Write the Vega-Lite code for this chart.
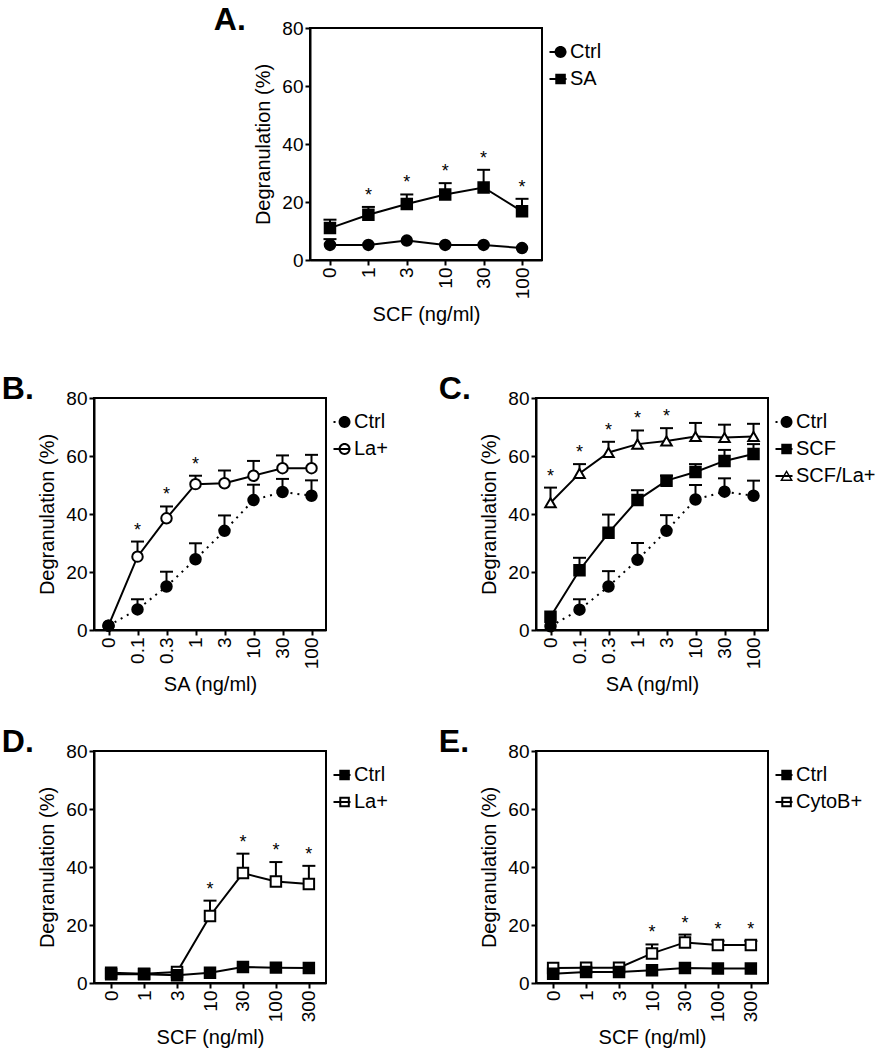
{
  "$schema": "https://vega.github.io/schema/vega-lite/v6.json",
  "autosize": {"type": "pad"},
  "padding": {"left": 0, "top": 3, "right": 0, "bottom": 0},
  "background": "white",
  "datasets": {
    "A": [
      {"conc": 0, "series": "SA", "mean": 11.0, "err": 13.9, "sig": false},
      {"conc": 1, "series": "SA", "mean": 15.6, "err": 18.3, "sig": true},
      {"conc": 3, "series": "SA", "mean": 19.3, "err": 22.6, "sig": true},
      {"conc": 10, "series": "SA", "mean": 22.6, "err": 26.5, "sig": true},
      {"conc": 30, "series": "SA", "mean": 25.0, "err": 31.1, "sig": true},
      {"conc": 100, "series": "SA", "mean": 16.8, "err": 21.1, "sig": true},
      {"conc": 0, "series": "Ctrl", "mean": 5.2, "err": 7.2, "sig": false},
      {"conc": 1, "series": "Ctrl", "mean": 5.2, "err": null, "sig": false},
      {"conc": 3, "series": "Ctrl", "mean": 6.7, "err": null, "sig": false},
      {"conc": 10, "series": "Ctrl", "mean": 5.2, "err": null, "sig": false},
      {"conc": 30, "series": "Ctrl", "mean": 5.2, "err": null, "sig": false},
      {"conc": 100, "series": "Ctrl", "mean": 4.1, "err": null, "sig": false}
    ],
    "B": [
      {"conc": 0, "series": "La+", "mean": 1.5, "err": null, "sig": false},
      {"conc": 0.1, "series": "La+", "mean": 25.3, "err": 30.5, "sig": true},
      {"conc": 0.3, "series": "La+", "mean": 38.5, "err": 42.6, "sig": true},
      {"conc": 1, "series": "La+", "mean": 50.3, "err": 53.2, "sig": true},
      {"conc": 3, "series": "La+", "mean": 50.6, "err": 55.0, "sig": false},
      {"conc": 10, "series": "La+", "mean": 53.2, "err": 58.3, "sig": false},
      {"conc": 30, "series": "La+", "mean": 55.8, "err": 60.2, "sig": false},
      {"conc": 100, "series": "La+", "mean": 55.8, "err": 60.4, "sig": false},
      {"conc": 0, "series": "Ctrl", "mean": 1.5, "err": null, "sig": false},
      {"conc": 0.1, "series": "Ctrl", "mean": 7.1, "err": 10.6, "sig": false},
      {"conc": 0.3, "series": "Ctrl", "mean": 15.0, "err": 20.1, "sig": false},
      {"conc": 1, "series": "Ctrl", "mean": 24.4, "err": 29.9, "sig": false},
      {"conc": 3, "series": "Ctrl", "mean": 34.2, "err": 39.5, "sig": false},
      {"conc": 10, "series": "Ctrl", "mean": 44.8, "err": 50.1, "sig": false},
      {"conc": 30, "series": "Ctrl", "mean": 47.6, "err": 52.1, "sig": false},
      {"conc": 100, "series": "Ctrl", "mean": 46.3, "err": 51.6, "sig": false}
    ],
    "C": [
      {"conc": 0, "series": "SCF/La+", "mean": 43.9, "err": 49.1, "sig": true},
      {"conc": 0.1, "series": "SCF/La+", "mean": 54.0, "err": 57.2, "sig": true},
      {"conc": 0.3, "series": "SCF/La+", "mean": 61.2, "err": 64.9, "sig": true},
      {"conc": 1, "series": "SCF/La+", "mean": 64.1, "err": 68.8, "sig": true},
      {"conc": 3, "series": "SCF/La+", "mean": 65.2, "err": 69.6, "sig": true},
      {"conc": 10, "series": "SCF/La+", "mean": 66.7, "err": 71.4, "sig": false},
      {"conc": 30, "series": "SCF/La+", "mean": 66.4, "err": 70.8, "sig": false},
      {"conc": 100, "series": "SCF/La+", "mean": 66.7, "err": 71.1, "sig": false},
      {"conc": 0, "series": "SCF", "mean": 4.6, "err": null, "sig": false},
      {"conc": 0.1, "series": "SCF", "mean": 20.6, "err": 24.9, "sig": false},
      {"conc": 0.3, "series": "SCF", "mean": 33.5, "err": 39.8, "sig": false},
      {"conc": 1, "series": "SCF", "mean": 44.8, "err": 48.2, "sig": false},
      {"conc": 3, "series": "SCF", "mean": 51.5, "err": 53.2, "sig": false},
      {"conc": 10, "series": "SCF", "mean": 54.5, "err": 57.2, "sig": false},
      {"conc": 30, "series": "SCF", "mean": 58.3, "err": 62.1, "sig": false},
      {"conc": 100, "series": "SCF", "mean": 60.7, "err": 64.1, "sig": false},
      {"conc": 0, "series": "Ctrl", "mean": 1.3, "err": null, "sig": false},
      {"conc": 0.1, "series": "Ctrl", "mean": 7.0, "err": 10.6, "sig": false},
      {"conc": 0.3, "series": "Ctrl", "mean": 15.0, "err": 20.3, "sig": false},
      {"conc": 1, "series": "Ctrl", "mean": 24.2, "err": 30.0, "sig": false},
      {"conc": 3, "series": "Ctrl", "mean": 34.2, "err": 39.6, "sig": false},
      {"conc": 10, "series": "Ctrl", "mean": 45.0, "err": 50.0, "sig": false},
      {"conc": 30, "series": "Ctrl", "mean": 47.7, "err": 52.3, "sig": false},
      {"conc": 100, "series": "Ctrl", "mean": 46.3, "err": 51.5, "sig": false}
    ],
    "D": [
      {"conc": 0, "series": "La+", "mean": 3.5, "err": null, "sig": false},
      {"conc": 1, "series": "La+", "mean": 3.2, "err": null, "sig": false},
      {"conc": 3, "series": "La+", "mean": 3.8, "err": null, "sig": false},
      {"conc": 10, "series": "La+", "mean": 23.1, "err": 28.4, "sig": true},
      {"conc": 30, "series": "La+", "mean": 37.9, "err": 44.6, "sig": true},
      {"conc": 100, "series": "La+", "mean": 35.0, "err": 41.7, "sig": true},
      {"conc": 300, "series": "La+", "mean": 34.1, "err": 40.4, "sig": true},
      {"conc": 0, "series": "Ctrl", "mean": 3.0, "err": null, "sig": false},
      {"conc": 1, "series": "Ctrl", "mean": 3.0, "err": null, "sig": false},
      {"conc": 3, "series": "Ctrl", "mean": 2.7, "err": null, "sig": false},
      {"conc": 10, "series": "Ctrl", "mean": 3.5, "err": null, "sig": false},
      {"conc": 30, "series": "Ctrl", "mean": 5.5, "err": null, "sig": false},
      {"conc": 100, "series": "Ctrl", "mean": 5.3, "err": null, "sig": false},
      {"conc": 300, "series": "Ctrl", "mean": 5.2, "err": null, "sig": false}
    ],
    "E": [
      {"conc": 0, "series": "CytoB+", "mean": 5.2, "err": null, "sig": false},
      {"conc": 1, "series": "CytoB+", "mean": 5.3, "err": null, "sig": false},
      {"conc": 3, "series": "CytoB+", "mean": 5.3, "err": null, "sig": false},
      {"conc": 10, "series": "CytoB+", "mean": 10.2, "err": 13.3, "sig": true},
      {"conc": 30, "series": "CytoB+", "mean": 14.0, "err": 16.7, "sig": true},
      {"conc": 100, "series": "CytoB+", "mean": 13.1, "err": 14.5, "sig": true},
      {"conc": 300, "series": "CytoB+", "mean": 13.1, "err": 14.5, "sig": true},
      {"conc": 0, "series": "Ctrl", "mean": 3.2, "err": null, "sig": false},
      {"conc": 1, "series": "Ctrl", "mean": 3.8, "err": null, "sig": false},
      {"conc": 3, "series": "Ctrl", "mean": 3.8, "err": null, "sig": false},
      {"conc": 10, "series": "Ctrl", "mean": 4.4, "err": null, "sig": false},
      {"conc": 30, "series": "Ctrl", "mean": 5.2, "err": null, "sig": false},
      {"conc": 100, "series": "Ctrl", "mean": 5.0, "err": null, "sig": false},
      {"conc": 300, "series": "Ctrl", "mean": 5.0, "err": null, "sig": false}
    ]
  },
  "columns": 3,
  "align": "none",
  "bounds": "flush",
  "spacing": {"row": 121, "column": -16},
  "concat": [
    {"width": 10, "height": 249, "view": {"stroke": null}, "data": {"values": []}, "mark": "point", "encoding": {}},
    {
      "width": 232, "height": 232,
      "title": {"text": "A.", "anchor": "start", "frame": "bounds", "baseline": "alphabetic", "offset": 0, "dx": -40, "dy": 43},
      "data": {"name": "A"},
      "encoding": {
        "x": {"field": "conc", "type": "ordinal", "scale": {"type": "point", "padding": 0.52}, "axis": {"title": "SCF (ng/ml)"}},
        "y": {"field": "mean", "type": "quantitative", "scale": {"domain": [0, 80]}, "axis": {"title": "Degranulation (%)", "values": [0, 20, 40, 60, 80]}}
      },
      "resolve": {"scale": {"shape": "independent", "fill": "independent"}},
      "layer": [
        {"mark": {"type": "line", "strokeWidth": 2, "color": "black"}, "encoding": {"detail": {"field": "series"}, "order": {"field": "conc", "type": "quantitative"}}},
        {"transform": [{"filter": "datum.err != null"}], "mark": {"type": "rule", "strokeWidth": 2, "color": "black", "opacity": 1}, "encoding": {"y2": {"field": "err"}}},
        {"transform": [{"filter": "datum.err != null"}], "mark": {"type": "tick", "orient": "horizontal", "size": 13, "thickness": 2, "color": "black", "opacity": 1}, "encoding": {"y": {"field": "err", "type": "quantitative"}}},
        {"mark": {"type": "point", "size": 110, "strokeWidth": 2, "stroke": "black", "opacity": 1}, "encoding": {"shape": {"field": "series", "type": "nominal", "scale": {"domain": ["Ctrl", "SA"], "range": ["circle", "square"]}, "legend": null}, "fill": {"field": "series", "type": "nominal", "scale": {"domain": ["Ctrl", "SA"], "range": ["black", "black"]}, "legend": null}}},
        {"transform": [{"filter": "datum.sig"}], "mark": {"type": "text", "text": "*", "fontSize": 18, "dy": -6, "baseline": "alphabetic", "color": "black"}, "encoding": {"y": {"field": "err", "type": "quantitative"}}},
        {"data": {"values": []}, "mark": {"type": "point", "size": 289, "filled": true, "color": "black", "strokeWidth": 0, "opacity": 1}, "encoding": {
          "shape": {"field": "series", "type": "nominal", "scale": {"domain": ["Ctrl", "SA"], "range": [
            "M-1,-0.12H1V0.12H-1ZM-0.4,0A0.7,0.7,0,1,1,1,0A0.7,0.7,0,1,1,-0.4,0Z",
            "M-1,-0.12H1V0.12H-1ZM-0.32,-0.62H0.92V0.62H-0.32Z"]}}}}
      ]
    },
    {"width": 10, "height": 10, "view": {"stroke": null}, "data": {"values": []}, "mark": "point", "encoding": {}},
    {
      "width": 232, "height": 232,
      "title": {"text": "B.", "anchor": "start", "frame": "bounds", "baseline": "alphabetic", "offset": 0, "dx": -36, "dy": 42},
      "data": {"name": "B"},
      "encoding": {
        "x": {"field": "conc", "type": "ordinal", "scale": {"type": "point", "padding": 0.5}, "axis": {"title": "SA (ng/ml)"}},
        "y": {"field": "mean", "type": "quantitative", "scale": {"domain": [0, 80]}, "axis": {"title": "Degranulation (%)", "values": [0, 20, 40, 60, 80]}}
      },
      "resolve": {"scale": {"shape": "independent", "fill": "independent"}},
      "layer": [
        {"transform": [{"filter": "datum.series != 'Ctrl'"}], "mark": {"type": "line", "strokeWidth": 2, "color": "black"}, "encoding": {"detail": {"field": "series"}, "order": {"field": "conc", "type": "quantitative"}}},
        {"transform": [{"filter": "datum.series == 'Ctrl'"}], "mark": {"type": "line", "strokeWidth": 2, "color": "black", "strokeDash": [2, 5]}, "encoding": {"order": {"field": "conc", "type": "quantitative"}}},
        {"transform": [{"filter": "datum.err != null"}], "mark": {"type": "rule", "strokeWidth": 2, "color": "black", "opacity": 1}, "encoding": {"y2": {"field": "err"}}},
        {"transform": [{"filter": "datum.err != null"}], "mark": {"type": "tick", "orient": "horizontal", "size": 13, "thickness": 2, "color": "black", "opacity": 1}, "encoding": {"y": {"field": "err", "type": "quantitative"}}},
        {"mark": {"type": "point", "size": 110, "strokeWidth": 2, "stroke": "black", "opacity": 1}, "encoding": {"shape": {"field": "series", "type": "nominal", "scale": {"domain": ["Ctrl", "La+"], "range": ["circle", "circle"]}, "legend": null}, "fill": {"field": "series", "type": "nominal", "scale": {"domain": ["Ctrl", "La+"], "range": ["black", "white"]}, "legend": null}}},
        {"transform": [{"filter": "datum.sig"}], "mark": {"type": "text", "text": "*", "fontSize": 18, "dy": -6, "baseline": "alphabetic", "color": "black"}, "encoding": {"y": {"field": "err", "type": "quantitative"}}},
        {"data": {"values": []}, "mark": {"type": "point", "size": 289, "filled": true, "color": "black", "strokeWidth": 0, "opacity": 1}, "encoding": {
          "shape": {"field": "series", "type": "nominal", "scale": {"domain": ["Ctrl", "La+"], "range": [
            "M-1,-0.12H-0.76V0.12H-1ZM-0.4,0A0.7,0.7,0,1,1,1,0A0.7,0.7,0,1,1,-0.4,0Z",
            "M-1,-0.12H1V0.12H-1ZM-0.4,0A0.7,0.7,0,1,1,1,0A0.7,0.7,0,1,1,-0.4,0ZM-0.17,0A0.47,0.47,0,1,0,0.77,0A0.47,0.47,0,1,0,-0.17,0Z"]}}}}
      ]
    },
    {"width": 242, "height": 10, "view": {"stroke": null}, "data": {"values": []}, "mark": "point", "encoding": {}},
    {
      "width": 232, "height": 232,
      "title": {"text": "C.", "anchor": "start", "frame": "bounds", "baseline": "alphabetic", "offset": 0, "dx": -41, "dy": 42},
      "data": {"name": "C"},
      "encoding": {
        "x": {"field": "conc", "type": "ordinal", "scale": {"type": "point", "padding": 0.5}, "axis": {"title": "SA (ng/ml)"}},
        "y": {"field": "mean", "type": "quantitative", "scale": {"domain": [0, 80]}, "axis": {"title": "Degranulation (%)", "values": [0, 20, 40, 60, 80]}}
      },
      "resolve": {"scale": {"shape": "independent", "fill": "independent"}},
      "layer": [
        {"transform": [{"filter": "datum.series != 'Ctrl'"}], "mark": {"type": "line", "strokeWidth": 2, "color": "black"}, "encoding": {"detail": {"field": "series"}, "order": {"field": "conc", "type": "quantitative"}}},
        {"transform": [{"filter": "datum.series == 'Ctrl'"}], "mark": {"type": "line", "strokeWidth": 2, "color": "black", "strokeDash": [2, 5]}, "encoding": {"order": {"field": "conc", "type": "quantitative"}}},
        {"transform": [{"filter": "datum.err != null"}], "mark": {"type": "rule", "strokeWidth": 2, "color": "black", "opacity": 1}, "encoding": {"y2": {"field": "err"}}},
        {"transform": [{"filter": "datum.err != null"}], "mark": {"type": "tick", "orient": "horizontal", "size": 13, "thickness": 2, "color": "black", "opacity": 1}, "encoding": {"y": {"field": "err", "type": "quantitative"}}},
        {"mark": {"type": "point", "size": 110, "strokeWidth": 2, "stroke": "black", "opacity": 1}, "encoding": {"shape": {"field": "series", "type": "nominal", "scale": {"domain": ["Ctrl", "SCF", "SCF/La+"], "range": ["circle", "square", "triangle-up"]}, "legend": null}, "fill": {"field": "series", "type": "nominal", "scale": {"domain": ["Ctrl", "SCF", "SCF/La+"], "range": ["black", "black", "white"]}, "legend": null}}},
        {"transform": [{"filter": "datum.sig"}], "mark": {"type": "text", "text": "*", "fontSize": 18, "dy": -6, "baseline": "alphabetic", "color": "black"}, "encoding": {"y": {"field": "err", "type": "quantitative"}}},
        {"data": {"values": []}, "mark": {"type": "point", "size": 289, "filled": true, "color": "black", "strokeWidth": 0, "opacity": 1}, "encoding": {
          "shape": {"field": "series", "type": "nominal", "scale": {"domain": ["Ctrl", "SCF", "SCF/La+"], "range": [
            "M-1,-0.12H-0.76V0.12H-1ZM-0.4,0A0.7,0.7,0,1,1,1,0A0.7,0.7,0,1,1,-0.4,0Z",
            "M-1,-0.12H1V0.12H-1ZM-0.32,-0.62H0.92V0.62H-0.32Z",
            "M-1,-0.12H1V0.12H-1ZM0.3,-0.72L1.06,0.6H-0.46ZM0.3,-0.37L-0.156,0.424H0.756Z"]}}}}
      ]
    },
    {
      "width": 232, "height": 232,
      "title": {"text": "D.", "anchor": "start", "frame": "bounds", "baseline": "alphabetic", "offset": 0, "dx": -36, "dy": 42},
      "data": {"name": "D"},
      "encoding": {
        "x": {"field": "conc", "type": "ordinal", "scale": {"type": "point", "padding": 0.52}, "axis": {"title": "SCF (ng/ml)"}},
        "y": {"field": "mean", "type": "quantitative", "scale": {"domain": [0, 80]}, "axis": {"title": "Degranulation (%)", "values": [0, 20, 40, 60, 80]}}
      },
      "resolve": {"scale": {"shape": "independent", "fill": "independent"}},
      "layer": [
        {"mark": {"type": "line", "strokeWidth": 2, "color": "black"}, "encoding": {"detail": {"field": "series"}, "order": {"field": "conc", "type": "quantitative"}}},
        {"transform": [{"filter": "datum.err != null"}], "mark": {"type": "rule", "strokeWidth": 2, "color": "black", "opacity": 1}, "encoding": {"y2": {"field": "err"}}},
        {"transform": [{"filter": "datum.err != null"}], "mark": {"type": "tick", "orient": "horizontal", "size": 13, "thickness": 2, "color": "black", "opacity": 1}, "encoding": {"y": {"field": "err", "type": "quantitative"}}},
        {"mark": {"type": "point", "size": 110, "strokeWidth": 2, "stroke": "black", "opacity": 1}, "encoding": {"shape": {"field": "series", "type": "nominal", "scale": {"domain": ["Ctrl", "La+"], "range": ["square", "square"]}, "legend": null}, "fill": {"field": "series", "type": "nominal", "scale": {"domain": ["Ctrl", "La+"], "range": ["black", "white"]}, "legend": null}}},
        {"transform": [{"filter": "datum.sig"}], "mark": {"type": "text", "text": "*", "fontSize": 18, "dy": -6, "baseline": "alphabetic", "color": "black"}, "encoding": {"y": {"field": "err", "type": "quantitative"}}},
        {"data": {"values": []}, "mark": {"type": "point", "size": 289, "filled": true, "color": "black", "strokeWidth": 0, "opacity": 1}, "encoding": {
          "shape": {"field": "series", "type": "nominal", "scale": {"domain": ["Ctrl", "La+"], "range": [
            "M-1,-0.12H1V0.12H-1ZM-0.32,-0.62H0.92V0.62H-0.32Z",
            "M-1,-0.12H1V0.12H-1ZM-0.32,-0.62H0.92V0.62H-0.32ZM-0.085,-0.385V0.385H0.685V-0.385Z"]}}}}
      ]
    },
    {"width": 241, "height": 10, "view": {"stroke": null}, "data": {"values": []}, "mark": "point", "encoding": {}},
    {
      "width": 232, "height": 232,
      "title": {"text": "E.", "anchor": "start", "frame": "bounds", "baseline": "alphabetic", "offset": 0, "dx": -41, "dy": 42},
      "data": {"name": "E"},
      "encoding": {
        "x": {"field": "conc", "type": "ordinal", "scale": {"type": "point", "padding": 0.52}, "axis": {"title": "SCF (ng/ml)"}},
        "y": {"field": "mean", "type": "quantitative", "scale": {"domain": [0, 80]}, "axis": {"title": "Degranulation (%)", "values": [0, 20, 40, 60, 80]}}
      },
      "resolve": {"scale": {"shape": "independent", "fill": "independent"}},
      "layer": [
        {"mark": {"type": "line", "strokeWidth": 2, "color": "black"}, "encoding": {"detail": {"field": "series"}, "order": {"field": "conc", "type": "quantitative"}}},
        {"transform": [{"filter": "datum.err != null"}], "mark": {"type": "rule", "strokeWidth": 2, "color": "black", "opacity": 1}, "encoding": {"y2": {"field": "err"}}},
        {"transform": [{"filter": "datum.err != null"}], "mark": {"type": "tick", "orient": "horizontal", "size": 13, "thickness": 2, "color": "black", "opacity": 1}, "encoding": {"y": {"field": "err", "type": "quantitative"}}},
        {"mark": {"type": "point", "size": 110, "strokeWidth": 2, "stroke": "black", "opacity": 1}, "encoding": {"shape": {"field": "series", "type": "nominal", "scale": {"domain": ["Ctrl", "CytoB+"], "range": ["square", "square"]}, "legend": null}, "fill": {"field": "series", "type": "nominal", "scale": {"domain": ["Ctrl", "CytoB+"], "range": ["black", "white"]}, "legend": null}}},
        {"transform": [{"filter": "datum.sig"}], "mark": {"type": "text", "text": "*", "fontSize": 18, "dy": -6, "baseline": "alphabetic", "color": "black"}, "encoding": {"y": {"field": "err", "type": "quantitative"}}},
        {"data": {"values": []}, "mark": {"type": "point", "size": 289, "filled": true, "color": "black", "strokeWidth": 0, "opacity": 1}, "encoding": {
          "shape": {"field": "series", "type": "nominal", "scale": {"domain": ["Ctrl", "CytoB+"], "range": [
            "M-1,-0.12H1V0.12H-1ZM-0.32,-0.62H0.92V0.62H-0.32Z",
            "M-1,-0.12H1V0.12H-1ZM-0.32,-0.62H0.92V0.62H-0.32ZM-0.085,-0.385V0.385H0.685V-0.385Z"]}}}}
      ]
    }
  ],
  "config": {
    "font": "Liberation Sans",
    "view": {"stroke": "black", "strokeWidth": 2},
    "axis": {
      "domainColor": "black", "domainWidth": 2, "tickColor": "black", "tickWidth": 2, "tickSize": 5,
      "labelColor": "black", "labelFontSize": 19, "labelFont": "Liberation Sans",
      "titleFont": "Liberation Sans", "titleFontSize": 20, "titleFontWeight": "normal", "titleColor": "black",
      "grid": false, "labelFlush": false, "labelOverlap": false, "labelPadding": 2
    },
    "axisX": {"labelAngle": -90, "titlePadding": 6},
    "axisY": {"titlePadding": 8},
    "legend": {
      "title": null, "orient": "right", "offset": -8, "padding": 14,
      "labelFont": "Liberation Sans", "labelFontSize": 20, "labelColor": "black", "labelOffset": 2,
      "symbolFillColor": "black", "symbolStrokeWidth": 0, "symbolSize": 289, "rowPadding": 7
    },
    "title": {"font": "Liberation Sans", "fontSize": 32, "fontWeight": "bold", "color": "black"}
  }
}
